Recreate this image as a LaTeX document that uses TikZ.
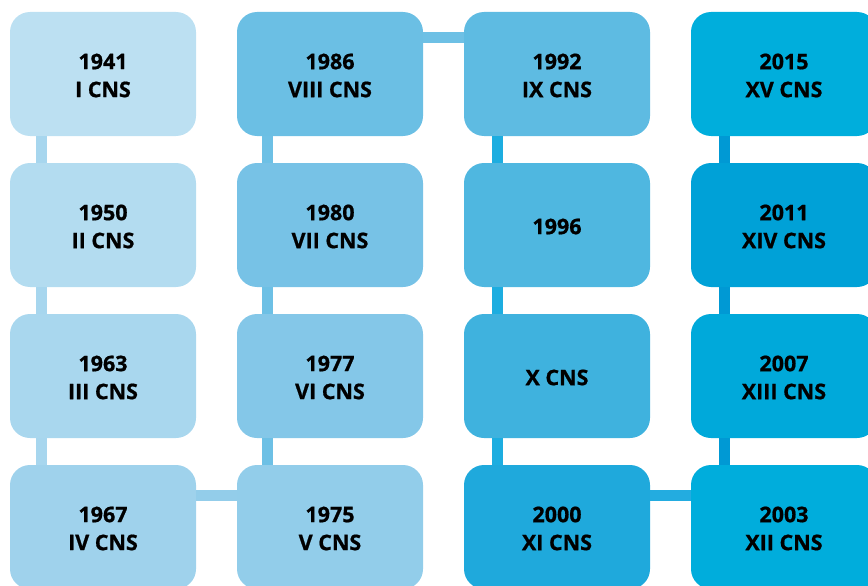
\documentclass[tikz,border=0pt]{standalone}
\usepackage{fontspec}
\setmainfont{Open Sans}[BoldFeatures={FakeBold=0.8}]
\begin{document}
\begin{tikzpicture}[x=1pt,y=-1pt,
  cbox/.style={fill=#1, draw=none, rounded corners=20pt, minimum width=186pt,
    minimum height=124pt, inner sep=0pt},
  caption/.style={label={[inner sep=0pt, align=center, yshift=-1.5pt,
    font=\fontsize{21.5}{28}\selectfont\bfseries]center:#1}},
  link/.style={draw=#1, line width=11pt}]
\useasboundingbox (0,0) rectangle (868,586);
% colours, lightest to darkest
\definecolor{c1941}{HTML}{BCE0F2}
\definecolor{c1950}{HTML}{B3DCF0}
\definecolor{c1963}{HTML}{A9D7EE}
\definecolor{c1967}{HTML}{9FD2EC}
\definecolor{c1975}{HTML}{92CDEA}
\definecolor{c1977}{HTML}{84C7E8}
\definecolor{c1980}{HTML}{77C2E6}
\definecolor{c1986}{HTML}{6BBFE4}
\definecolor{c1992}{HTML}{5EBBE2}
\definecolor{c1996}{HTML}{4FB7E0}
\definecolor{cX}{HTML}{3FB2DE}
\definecolor{c2000}{HTML}{1FA9DC}
\definecolor{c2003}{HTML}{00ADDC}
\definecolor{c2007}{HTML}{00A9DA}
\definecolor{c2011}{HTML}{00A1D7}
\definecolor{c2015}{HTML}{00AEDC}
\definecolor{l1}{HTML}{A7D6EE}
\definecolor{l2}{HTML}{6DC0E5}
\definecolor{l3}{HTML}{1DADE0}
\definecolor{l4}{HTML}{0099D4}
\definecolor{lb1}{HTML}{93CDEA}
\definecolor{lb2}{HTML}{23ACE0}
% boxes
\node[cbox=c1941, caption={1941\\I CNS}]    (n1) at (103,74)  {};
\node[cbox=c1950, caption={1950\\II CNS}]   (n2) at (103,225) {};
\node[cbox=c1963, caption={1963\\III CNS}]  (n3) at (103,376) {};
\node[cbox=c1967, caption={1967\\IV CNS}]   (n4) at (103,527) {};
\node[cbox=c1975, caption={1975\\V CNS}]    (n5) at (330,527) {};
\node[cbox=c1977, caption={1977\\VI CNS}]   (n6) at (330,376) {};
\node[cbox=c1980, caption={1980\\VII CNS}]  (n7) at (330,225) {};
\node[cbox=c1986, caption={1986\\VIII CNS}] (n8) at (330,74)  {};
\node[cbox=c1992, caption={1992\\IX CNS}]   (n9) at (557,74)  {};
\node[cbox=c1996, caption={1996}]           (n9b) at (557,225) {};
\node[cbox=cX,    caption={X CNS}]          (n10) at (557,376) {};
\node[cbox=c2000, caption={2000\\XI CNS}]   (n11) at (557,527) {};
\node[cbox=c2003, caption={2003\\XII CNS}]  (n12) at (784,527) {};
\node[cbox=c2007, caption={2007\\XIII CNS}] (n13) at (784,376) {};
\node[cbox=c2011, caption={2011\\XIV CNS}]  (n14) at (784,225) {};
\node[cbox=c2015, caption={2015\\XV CNS}]   (n15) at (784,74)  {};
% connectors between neighbouring boxes
\draw[link=l1] ([xshift=-62pt]n1.south) -- ([xshift=-62pt]n2.north);
\draw[link=l1] ([xshift=-62pt]n2.south) -- ([xshift=-62pt]n3.north);
\draw[link=l1] ([xshift=-62pt]n3.south) -- ([xshift=-62pt]n4.north);
\draw[link=lb1] ([yshift=32pt]n4.east) -- ([yshift=32pt]n5.west);
\draw[link=l2] ([xshift=-63pt]n5.north) -- ([xshift=-63pt]n6.south);
\draw[link=l2] ([xshift=-63pt]n6.north) -- ([xshift=-63pt]n7.south);
\draw[link=l2] ([xshift=-63pt]n7.north) -- ([xshift=-63pt]n8.south);
\draw[link=l2] ([yshift=36pt]n8.east) -- ([yshift=36pt]n9.west);
\draw[link=l3] ([xshift=-60pt]n9.south) -- ([xshift=-60pt]n9b.north);
\draw[link=l3] ([xshift=-60pt]n9b.south) -- ([xshift=-60pt]n10.north);
\draw[link=l3] ([xshift=-60pt]n10.south) -- ([xshift=-60pt]n11.north);
\draw[link=lb2] ([yshift=32pt]n11.east) -- ([yshift=32pt]n12.west);
\draw[link=l4] ([xshift=-60pt]n12.north) -- ([xshift=-60pt]n13.south);
\draw[link=l4] ([xshift=-60pt]n13.north) -- ([xshift=-60pt]n14.south);
\draw[link=l4] ([xshift=-60pt]n14.north) -- ([xshift=-60pt]n15.south);
\end{tikzpicture}
\end{document}
